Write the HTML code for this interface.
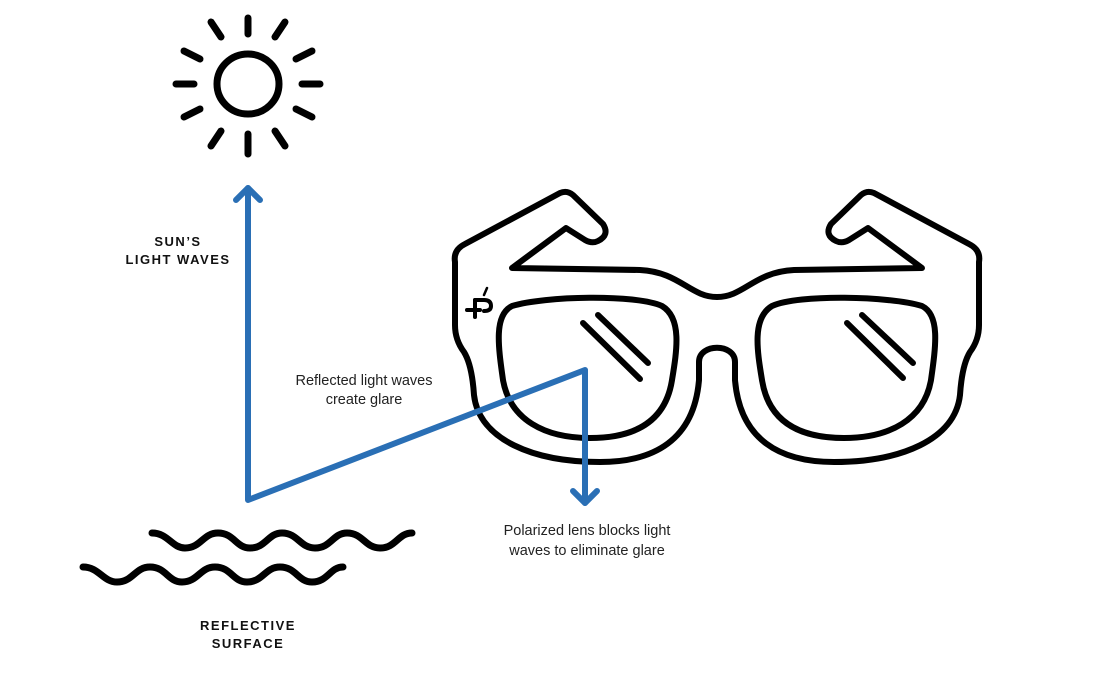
<!DOCTYPE html>
<html><head><meta charset="utf-8"><style>
html,body{margin:0;padding:0;background:#fff;}
svg{display:block;}
</style></head><body>
<svg width="1100" height="685" viewBox="0 0 1100 685" xmlns="http://www.w3.org/2000/svg">
<g fill="none" stroke="#000" stroke-width="6" stroke-linecap="round" stroke-linejoin="round">
  <!-- sun -->
  <ellipse cx="248" cy="84" rx="31" ry="30" stroke-width="7"/>
  <g transform="translate(248,84)" stroke-width="7">
    <line x1="0" y1="-50" x2="0" y2="-66"/>
    <line x1="0" y1="50" x2="0" y2="70"/>
    <line x1="-54" y1="0" x2="-72" y2="0"/>
    <line x1="54" y1="0" x2="72" y2="0"/>
    <line x1="27" y1="-47" x2="37" y2="-62"/>
    <line x1="-27" y1="-47" x2="-37" y2="-62"/>
    <line x1="27" y1="47" x2="37" y2="62"/>
    <line x1="-27" y1="47" x2="-37" y2="62"/>
    <line x1="48" y1="-25" x2="64" y2="-33"/>
    <line x1="-48" y1="-25" x2="-64" y2="-33"/>
    <line x1="48" y1="25" x2="64" y2="33"/>
    <line x1="-48" y1="25" x2="-64" y2="33"/>
  </g>
  <!-- waves -->
  <g stroke-width="7">
  <path d="M152,533 C168,533 172,548 185,548 C201,548 203,533 218,533 C234,533 236,548 250,548 C266,548 268,533 282,533 C298,533 300,548 315,548 C331,548 333,533 347,533 C363,533 365,548 380,548 C396,548 398,533 412,533"/>
  <path d="M83,567 C99,567 103,582 117,582 C133,582 135,567 150,567 C166,567 168,582 182,582 C198,582 200,567 215,567 C231,567 233,582 247,582 C263,582 265,567 280,567 C296,567 298,582 312,582 C328,582 330,567 343,567"/>
  </g>
  <!-- glasses frame -->
  <path d="M455,262 Q453,250 465,244 L560,193 Q567,190 573,195 L603,224 Q610,235 598,241 Q592,244 585,240 L566,228 L512,268 L640,270 C680,272 690,297 717,297 C744,297 754,272 794,270 L922,268 L868,228 L849,240 Q842,244 836,241 Q824,235 831,224 L861,195 Q867,190 874,193 L969,244 Q981,250 979,262 L979,325 Q979,340 970,352 Q962,365 960,395 C955,440 900,462 834,462 C780,462 740,440 735,380 L735,362 C735,343 699,343 699,362 L699,380 C694,440 654,462 600,462 C534,462 479,440 474,395 Q472,365 464,352 Q455,340 455,325 Z"/>
  <path id="lens" d="M512,306 C545,296 635,294 662,306 C682,318 677,350 672,380 C665,425 630,438 590,438 C545,438 510,420 503,380 C498,345 494,315 512,306 Z"/>
  <use href="#lens" transform="translate(1434,0) scale(-1,1)"/>
  <line x1="583" y1="323" x2="640" y2="379"/>
  <line x1="598" y1="315" x2="648" y2="363"/>
  <line x1="847" y1="323" x2="903" y2="378"/>
  <line x1="862" y1="315" x2="913" y2="363"/>
  <!-- logo -->
  <g stroke-width="4">
    <line x1="475" y1="300" x2="475" y2="317"/>
    <line x1="467" y1="310" x2="480" y2="310"/>
    <path d="M475,300 L484,300 Q491,300 491,306 Q491,311 484,311"/>
  </g>
  <line x1="484" y1="295" x2="487" y2="288" stroke-width="2.5"/>
</g>
<!-- blue arrows -->
<g fill="none" stroke="#2a6fb5" stroke-width="6" stroke-linecap="round" stroke-linejoin="round">
  <path d="M248,188 L248,500 L585,370 L585,503"/>
  <path d="M236,200 L248,188 L260,200"/>
  <path d="M573,491 L585,503 L597,491"/>
</g>
<g font-family="Liberation Sans, sans-serif" fill="#111">
  <g font-weight="bold" font-size="13" text-anchor="middle" letter-spacing="1.5">
    <text x="178" y="246">SUN’S</text>
    <text x="178" y="264">LIGHT WAVES</text>
    <text x="248" y="630">REFLECTIVE</text>
    <text x="248" y="648">SURFACE</text>
  </g>
  <g font-size="14.5" text-anchor="middle" fill="#222">
    <text x="364" y="385">Reflected light waves</text>
    <text x="364" y="404">create glare</text>
    <text x="587" y="535">Polarized lens blocks light</text>
    <text x="587" y="555">waves to eliminate glare</text>
  </g>
</g>
</svg>
</body></html>
